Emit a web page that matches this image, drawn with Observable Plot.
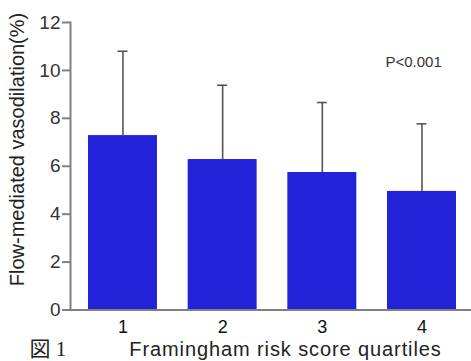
<!DOCTYPE html>
<html>
<head>
<meta charset="utf-8">
<script src="https://cdn.jsdelivr.net/npm/d3@7"></script>
<script src="https://cdn.jsdelivr.net/npm/@observablehq/plot@0.6"></script>
<style>
  html, body { margin: 0; padding: 0; background: #fff; }
</style>
</head>
<body>
<div id="chart"></div>
<script>
const quartiles = [1, 2, 3, 4];
const meanFMD = [7.28, 6.28, 5.74, 4.95];
const upperSD = [10.8, 9.38, 8.66, 7.77];
const yTicks = [0, 2, 4, 6, 8, 10, 12];
const yLabel = "Flow-mediated vasodilation(%)";
const xLabel = "Framingham risk score quartiles";
const figLabel = "図 1";
const pLabel = "P<0.001";

const rows = quartiles.map((q, i) => ({q, mean: meanFMD[i], upper: upperSD[i]}));

const chart = Plot.plot({
  width: 471,
  height: 361,
  marginLeft: 70,
  marginRight: 0,
  marginTop: 22,
  marginBottom: 51.5,
  style: {background: "#fff", fontFamily: "'Liberation Sans', Arial, sans-serif"},
  x: {domain: quartiles, paddingInner: 0.308, paddingOuter: 0.1655, align: 0.545, round: false},
  y: {domain: [0, 12]},
  marks: [
    Plot.barY(rows, {x: "q", y: "mean", fill: "#2222d8"}),
    Plot.ruleX(rows, {x: "q", y1: "mean", y2: "upper", stroke: "#555", strokeWidth: 1.6}),
    Plot.tickY(rows, {x: "q", y: "upper", stroke: "#555", strokeWidth: 1.6, insetLeft: 29.5, insetRight: 29.5}),
    Plot.ruleY([0], {stroke: "#808080", strokeWidth: 2}),
    Plot.frame({anchor: "left", stroke: "#808080", strokeWidth: 2}),
    Plot.axisY({ticks: yTicks, tickSize: 8, tickPadding: 2, stroke: "#808080", strokeWidth: 2,
      fontSize: 19, fill: "#333", label: null}),
    Plot.axisX({tickSize: 0, tickPadding: 10, fontSize: 18, fill: "#111",
      fontFamily: "'Liberation Sans Narrow', 'Liberation Sans', sans-serif", label: null}),
    Plot.text([yLabel], {text: d => d, frameAnchor: "left", rotate: -90, dx: -53, dy: -16.75,
      fontSize: 20, fill: "#222", textAnchor: "middle", lineAnchor: "middle"}),
    Plot.text([xLabel], {text: d => d, frameAnchor: "bottom", dx: 14.5, dy: 46, lineAnchor: "bottom",
      fontSize: 20, fill: "#222"}),
    Plot.text([figLabel], {text: d => d, frameAnchor: "bottom-left", textAnchor: "start", dx: -41, dy: 46,
      lineAnchor: "bottom", fontSize: 21, fill: "#222",
      fontFamily: "'Liberation Serif', 'Noto Sans CJK JP', serif"}),
    Plot.text([pLabel], {text: d => d, frameAnchor: "top-right", textAnchor: "start", dx: -86, dy: 44,
      lineAnchor: "bottom", fontSize: 15, fill: "#333"})
  ]
});
d3.select(chart).selectAll("text")
  .filter(function() { return this.textContent === xLabel; })
  .style("letter-spacing", "0.9px");
document.getElementById("chart").appendChild(chart);
</script>
</body>
</html>
